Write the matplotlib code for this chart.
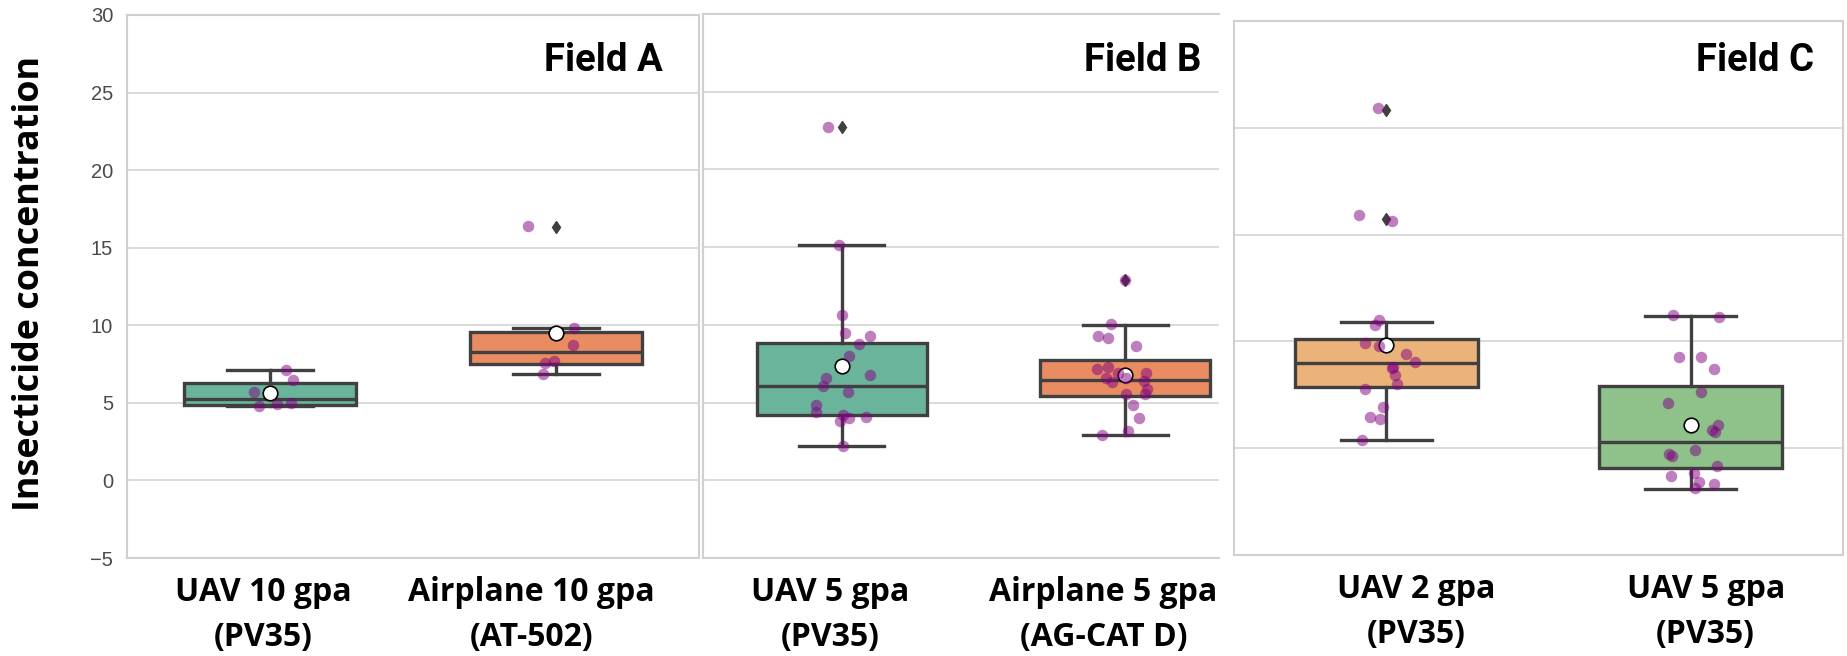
import numpy as np
import matplotlib
matplotlib.use("Agg")
from matplotlib import pyplot as plt
from matplotlib.transforms import Bbox, TransformedBbox, ScaledTranslation, blended_transform_factory

# ---- data ----
a_labels = ["UAV 10 gpa\n(PV35)", "Airplane 10 gpa\n(AT-502)"]
a_points = [[4.95, 6.5, 7.14, 5.7, 4.8, 5.0],
            [16.4, 9.8, 8.7, 7.7, 7.55, 6.87]]
a_q1 = [4.86, 7.51]
a_med = [5.25, 8.25]
a_q3 = [6.29, 9.59]
a_lo = [4.8, 6.87]
a_hi = [7.14, 9.82]
a_mean = [5.65, 9.52]
a_fliers = [[], [16.35]]

b_labels = ["UAV 5 gpa\n(PV35)", "Airplane 5 gpa\n(AG-CAT D)"]
b_points = [[22.76, 15.17, 10.64, 9.49, 9.31, 8.74, 7.98, 6.78, 6.6, 6.05,
             5.7, 4.83, 4.37, 4.21, 3.79, 4.07, 4.02, 2.18],
            [12.87, 10.07, 9.31, 9.15, 8.62, 7.29, 6.9, 7.13, 6.37, 6.55,
             6.32, 5.86, 5.52, 5.52, 4.83, 4.02, 2.92, 3.15, 6.55, 6.9]]
b_q1 = [4.21, 5.45]
b_med = [6.05, 6.48]
b_q3 = [8.85, 7.75]
b_lo = [2.18, 2.92]
b_hi = [15.17, 10.0]
b_mean = [7.36, 6.78]
b_fliers = [[22.76], [12.87]]

c_labels = ["UAV 2 gpa\n(PV35)", "UAV 5 gpa\n(PV35)"]
c_points = [[20.92, 15.65, 15.93, 11.01, 10.76, 9.92, 9.43, 9.8, 9.04, 8.74,
             8.82, 8.42, 8.0, 7.78, 6.94, 6.47, 6.39, 5.38],
            [11.14, 11.23, 9.29, 9.29, 8.71, 7.61, 7.11, 5.85, 6.1, 5.76,
             4.92, 4.71, 4.64, 4.17, 3.83, 3.7, 3.33, 3.41, 3.13]]
c_q1 = [7.87, 4.08]
c_med = [8.99, 5.29]
c_q3 = [10.13, 7.9]
c_lo = [5.38, 3.08]
c_hi = [10.92, 11.19]
c_mean = [9.85, 6.1]
c_fliers = [[20.84, 15.73], []]

EDGE = "#404040"
GRID = "#dadada"
rng = np.random.default_rng(7)

W, H = 1847, 656
fig = plt.figure(figsize=(W / 100, H / 100), dpi=100)
fig.patch.set_facecolor("white")

def px(l, r, t, b):
    return [l / W, (H - b) / H, (r - l) / W, (b - t) / H]

def panel(rect, xlim, ylim, yticks, labels, label_dx, points, q1, med, q3, lo,
          hi, mean, fliers, colors, title, tx, ty, spines):
    ax = fig.add_axes(rect)
    stats = []
    for i in range(len(labels)):
        stats.append(dict(q1=q1[i], med=med[i], q3=q3[i], whislo=lo[i],
                          whishi=hi[i], mean=mean[i], fliers=fliers[i], label=""))
    bp = ax.bxp(stats, positions=range(len(labels)), widths=0.6, capwidths=0.3,
                patch_artist=True, showmeans=True,
                boxprops=dict(edgecolor=EDGE, linewidth=2.4),
                whiskerprops=dict(color=EDGE, linewidth=2.4),
                capprops=dict(color=EDGE, linewidth=2.4),
                medianprops=dict(color=EDGE, linewidth=2.4),
                meanprops=dict(marker="o", markerfacecolor="white",
                               markeredgecolor="black", markersize=10.5,
                               markeredgewidth=1.2),
                flierprops=dict(marker="d", markerfacecolor=EDGE,
                                markeredgecolor=EDGE, markersize=6))
    for patch, c in zip(bp["boxes"], colors):
        patch.set_facecolor(c)
    for i, vals in enumerate(points):
        xs = i + rng.uniform(-0.1, 0.1, len(vals))
        ax.plot(xs, vals, "o", color="purple", alpha=0.5, markersize=8.3,
                markeredgewidth=0, zorder=5)
    ax.set_xlim(*xlim)
    ax.set_ylim(*ylim)
    ax.set_yticks(yticks)
    ax.yaxis.grid(True, color=GRID, linewidth=1.4)
    ax.set_axisbelow(True)
    ax.set_xticks([])
    # category labels sit a little off the box centres, as in the slide
    trans = blended_transform_factory(ax.transData, ax.transAxes) + \
        ScaledTranslation(0, -13 / 72, fig.dpi_scale_trans)
    for i, lab in enumerate(labels):
        ax.text(i + label_dx[i], 0, lab, transform=trans, ha="center", va="top",
                multialignment="center", fontsize=23, fontweight="bold",
                family="Open Sans", linespacing=1.47, clip_on=False)
    ax.tick_params(axis="y", length=0, pad=10, labelsize=14.5,
                   labelcolor="#4a4a4a")
    for lab in ax.get_yticklabels():
        lab.set_family("Liberation Sans")
    for side, sp in ax.spines.items():
        sp.set_color("#d0d0d0")
        sp.set_linewidth(1.5)
        sp.set_visible(side in spines)
    ax.text(tx, ty, title, transform=ax.transAxes, ha="right", va="baseline",
            fontsize=27.5, fontweight="bold", family="Roboto")
    return ax

ax_a = panel(px(127, 699, 15, 558), (-0.5, 1.5), (-5, 30), range(-5, 31, 5),
             a_labels, [-0.025, -0.087], a_points, a_q1, a_med, a_q3, a_lo,
             a_hi, a_mean, a_fliers, ["#6bb49c", "#e98c62"], "Field A",
             0.937, 0.897, ["left", "right", "top", "bottom"])

ax_b = panel(px(703, 1219, 14, 558), (-0.49, 1.33), (-5, 30), range(-5, 31, 5),
             b_labels, [-0.042, -0.078], b_points, b_q1, b_med, b_q3, b_lo,
             b_hi, b_mean, b_fliers, ["#6bb49c", "#e98c62"], "Field B",
             0.965, 0.895, ["left", "top", "bottom"])
ax_b.set_yticklabels([])

ax_c = panel(px(1234, 1843, 21, 555), (-0.5, 1.5), (0, 25), range(0, 26, 5),
             c_labels, [0.098, 0.049], c_points, c_q1, c_med, c_q3, c_lo,
             c_hi, c_mean, c_fliers, ["#ebb27a", "#8ec28a"], "Field C",
             0.952, 0.906, ["left", "right", "top", "bottom"])
ax_c.tick_params(axis="y", pad=11)
# panel C was cropped: only slivers of its tick labels show
clip = TransformedBbox(Bbox([[1219 / W, 0], [1, 1]]), fig.transFigure)
for lab in ax_c.get_yticklabels():
    lab.set_clip_on(True)
    lab.set_clip_box(clip)

fig.text(30 / W, (H - 283) / H, "Insecticide concentration", rotation=90,
         ha="center", va="center", fontsize=25.8, fontweight="bold",
         family="Open Sans")

fig.savefig("out.png", dpi=100)
